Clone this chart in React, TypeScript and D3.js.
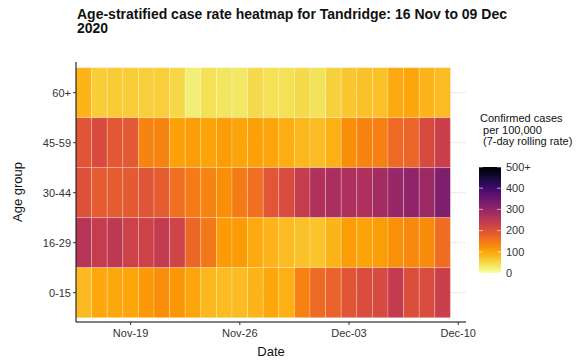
import React from "react";
import * as d3 from "d3";

const dates = [
  "2020-11-16", "2020-11-17", "2020-11-18", "2020-11-19", "2020-11-20", "2020-11-21",
  "2020-11-22", "2020-11-23", "2020-11-24", "2020-11-25", "2020-11-26", "2020-11-27",
  "2020-11-28", "2020-11-29", "2020-11-30", "2020-12-01", "2020-12-02", "2020-12-03",
  "2020-12-04", "2020-12-05", "2020-12-06", "2020-12-07", "2020-12-08", "2020-12-09",
];

const ageGroups = ["60+", "45-59", "30-44", "16-29", "0-15"];

const rate60plus = [85, 60, 62, 60, 58, 58, 50, 25, 40, 35, 33, 45, 40, 40, 45, 38, 55, 65, 72, 72, 95, 98, 85, 78];
const rate45to59 = [195, 210, 190, 188, 135, 135, 105, 108, 102, 108, 100, 104, 98, 90, 82, 78, 88, 125, 135, 140, 165, 170, 210, 230];
const rate30to44 = [200, 185, 185, 187, 195, 185, 160, 145, 135, 125, 145, 160, 193, 208, 235, 265, 270, 268, 268, 280, 295, 305, 290, 325];
const rate16to29 = [255, 237, 248, 225, 225, 240, 222, 168, 150, 110, 110, 95, 85, 78, 72, 70, 85, 108, 103, 108, 122, 130, 128, 163];
const rate0to15 = [80, 96, 96, 98, 113, 125, 115, 100, 82, 78, 78, 85, 96, 88, 138, 165, 175, 195, 208, 212, 240, 205, 208, 230];

const rateRows = [rate60plus, rate45to59, rate30to44, rate16to29, rate0to15];

const xTickDates = ["2020-11-19", "2020-11-26", "2020-12-03", "2020-12-10"];
const xTickLabels = ["Nov-19", "Nov-26", "Dec-03", "Dec-10"];
const legendTicks = [0, 100, 200, 300, 400, 500];
const legendLabels = ["0", "100", "200", "300", "400", "500+"];

const titleLines = ["Age-stratified case rate heatmap for Tandridge: 16 Nov to 09 Dec", "2020"];
const legendTitle = ["Confirmed cases", " per 100,000", " (7-day rolling rate)"];

const FONT = "'Liberation Sans', Arial, sans-serif";

export default function App() {
  const W = 585;
  const H = 362;
  const panelL = 76, panelR = 466, panelT = 62, panelB = 322;
  const cellT = 67.7, cellB = 317.7;

  const parse = (s: string) => new Date(s + "T00:00:00Z");
  const x = d3
    .scaleUtc()
    .domain([new Date(Date.UTC(2020, 10, 15, 12)), new Date(Date.UTC(2020, 11, 10, 12))])
    .range([panelL, panelR]);
  const dayW = x(parse("2020-11-17")) - x(parse("2020-11-16"));
  const y = d3.scaleBand<string>().domain(ageGroups).range([cellT, cellB]).padding(0);
  const color = d3
    .scaleSequential((t: number) => d3.interpolateInferno(1 - t))
    .domain([0, 500])
    .clamp(true);

  const legX = 479, legW = 22, legTop = 167, legBot = 273;
  const ly = d3.scaleLinear().domain([0, 500]).range([legBot, legTop]);
  const stops = d3.range(0, 1.0001, 0.05);

  return (
    <svg width={W} height={H} style={{ position: "absolute", left: 0, top: 0, background: "#fff" }} fontFamily={FONT}>
      <defs>
        <linearGradient id="legGrad" x1="0" y1="1" x2="0" y2="0">
          {stops.map((s) => (
            <stop key={s} offset={s} stopColor={color(s * 500)} />
          ))}
        </linearGradient>
      </defs>
      {/* title */}
      {titleLines.map((t, i) => (
        <text key={i} x={77} y={19 + i * 14} fontSize={14} fontWeight="bold" fill="#111">
          {t}
        </text>
      ))}
      {/* gridlines */}
      {ageGroups.map((g) => (
        <line
          key={g}
          x1={panelL}
          x2={panelR}
          y1={(y(g) as number) + y.bandwidth() / 2}
          y2={(y(g) as number) + y.bandwidth() / 2}
          stroke="#ebebeb"
          strokeWidth={1}
        />
      ))}
      {/* cells */}
      {ageGroups.map((g, gi) =>
        dates.map((d, di) => {
          const cx = x(parse(d));
          return (
            <rect
              key={g + d}
              x={cx - dayW / 2}
              y={y(g) as number}
              width={dayW}
              height={y.bandwidth()}
              fill={color(rateRows[gi][di])}
              stroke="rgba(255,255,255,0.3)"
              strokeWidth={0.8}
            />
          );
        })
      )}
      {/* axes */}
      <line x1={panelL} x2={panelL} y1={panelT} y2={panelB} stroke="#000" strokeWidth={1} />
      <line x1={panelL} x2={panelR} y1={panelB} y2={panelB} stroke="#000" strokeWidth={1} />
      {ageGroups.map((g) => {
        const yy = (y(g) as number) + y.bandwidth() / 2;
        return (
          <g key={g}>
            <line x1={panelL - 3} x2={panelL} y1={yy} y2={yy} stroke="#333" />
            <text x={panelL - 5} y={yy} dy="0.35em" textAnchor="end" fontSize={11} fill="#333">
              {g}
            </text>
          </g>
        );
      })}
      {xTickDates.map((d, i) => {
        const xx = x(parse(d));
        return (
          <g key={d}>
            <line x1={xx} x2={xx} y1={panelB} y2={panelB + 3} stroke="#333" />
            <text x={xx} y={337} textAnchor="middle" fontSize={11} fill="#333">
              {xTickLabels[i]}
            </text>
          </g>
        );
      })}
      <text x={(panelL + panelR) / 2} y={356} textAnchor="middle" fontSize={13} fill="#111">
        Date
      </text>
      <text
        transform={`translate(22,${(panelT + panelB) / 2}) rotate(-90)`}
        textAnchor="middle"
        fontSize={13}
        fill="#111"
      >
        Age group
      </text>
      {/* legend */}
      {legendTitle.map((t, i) => (
        <text key={i} x={480} y={122 + i * 11.5} fontSize={11} fill="#111" style={{ whiteSpace: "pre" }}>
          {t}
        </text>
      ))}
      <rect x={legX} y={legTop} width={legW} height={legBot - legTop} fill="url(#legGrad)" />
      {legendTicks.map((v, i) => (
        <g key={v}>
          <line x1={legX} x2={legX + 4} y1={ly(v)} y2={ly(v)} stroke="#fff" strokeOpacity={0.6} />
          <line x1={legX + legW - 4} x2={legX + legW} y1={ly(v)} y2={ly(v)} stroke="#fff" strokeOpacity={0.6} />
          <text x={506} y={ly(v)} dy="0.35em" fontSize={11} fill="#333">
            {legendLabels[i]}
          </text>
        </g>
      ))}
    </svg>
  );
}
